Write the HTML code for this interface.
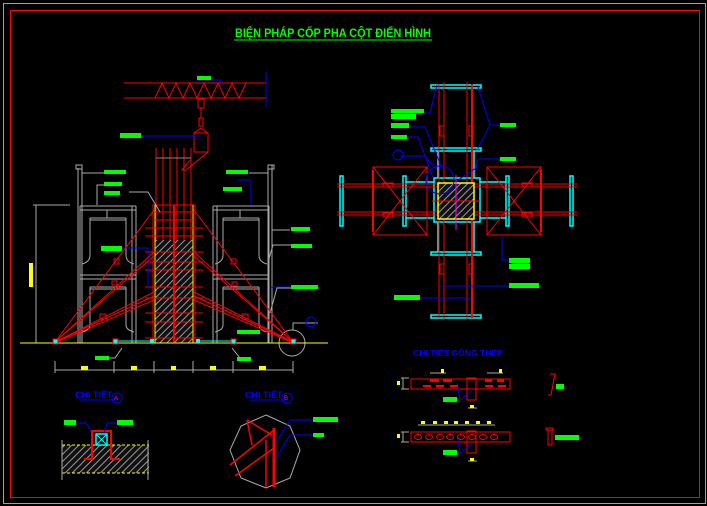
<!DOCTYPE html>
<html><head><meta charset="utf-8"><style>
html,body{margin:0;padding:0;background:#000;}
svg{display:block;}
text{font-family:"Liberation Sans",sans-serif;}
</style></head><body>
<svg width="707" height="506" viewBox="0 0 707 506" xmlns="http://www.w3.org/2000/svg">
<defs>
<pattern id="h" width="5" height="5" patternUnits="userSpaceOnUse" patternTransform="rotate(45)">
<rect width="5" height="5" fill="#111"/><line x1="0" y1="0" x2="0" y2="5" stroke="#999" stroke-width="2"/>
</pattern>
</defs>
<rect width="707" height="506" fill="#000"/>
<rect x="3.5" y="3.5" width="702" height="500" fill="none" stroke="#a0a0a0"/>
<rect x="10.5" y="10.5" width="689" height="487" fill="none" stroke="#f00"/>

<!-- title -->
<text x="333" y="37" fill="#0f0" font-size="12" font-weight="bold" text-anchor="middle" textLength="196" lengthAdjust="spacingAndGlyphs">BIỆN PHÁP CỐP PHA CỘT ĐIỂN HÌNH</text>
<line x1="234" y1="40" x2="432" y2="40" stroke="#0f0"/>

<!-- LEFT ELEVATION -->
<g fill="none">
<!-- truss -->
<line x1="124" y1="83" x2="266" y2="83" stroke="#f00"/>
<line x1="124" y1="98" x2="266" y2="98" stroke="#f00"/>
<polyline points="155,98 162,83 169,98 176,83 183,98 190,83 197,98 204,83 211,98 218,83 225,98 232,83 239,98 246,83" stroke="#f00"/>
<line x1="266" y1="72" x2="266" y2="108" stroke="#00f"/>
<polyline points="196,80 220,80 223,86" stroke="#00f"/>
<!-- hook -->
<rect x="198" y="99" width="6" height="9" stroke="#f00"/>
<line x1="201" y1="108" x2="201" y2="118" stroke="#f00"/>
<rect x="199" y="118" width="4" height="8" stroke="#f00"/>
<rect x="194" y="133" width="14" height="19" stroke="#f00"/>
<polyline points="194,133 201,128 208,133" stroke="#f00"/>
<polyline points="208,152 186,170 182,170 190,160" stroke="#f00"/>
<line x1="141" y1="136" x2="201" y2="136" stroke="#00f"/>
<!-- rebars -->
<g stroke="#f00">
<line x1="156" y1="148" x2="156" y2="343"/><line x1="163" y1="148" x2="163" y2="343"/>
<line x1="170" y1="148" x2="170" y2="343"/><line x1="177" y1="148" x2="177" y2="343"/>
<line x1="184" y1="148" x2="184" y2="343"/><line x1="191" y1="148" x2="191" y2="343"/>
</g>
<line x1="156" y1="158" x2="191" y2="158" stroke="#888"/>
<!-- column -->
<rect x="155" y="240" width="38" height="103" fill="url(#h)" stroke="none"/>
<rect x="153" y="205" width="42" height="138" stroke="#f00"/>
<line x1="155" y1="205" x2="155" y2="343" stroke="#ff0"/>
<line x1="193" y1="205" x2="193" y2="343" stroke="#ff0"/>
<line x1="174" y1="205" x2="174" y2="343" stroke="#f00" stroke-width="2"/>
<g stroke="#f00">
<line x1="145" y1="228" x2="203" y2="228"/><line x1="145" y1="236" x2="203" y2="236"/>
<line x1="145" y1="252" x2="203" y2="252"/><line x1="145" y1="262" x2="203" y2="262"/>
<line x1="145" y1="270" x2="203" y2="270"/><line x1="145" y1="287" x2="203" y2="287"/>
<line x1="145" y1="298" x2="203" y2="298"/><line x1="145" y1="313" x2="203" y2="313"/>
<line x1="145" y1="322" x2="203" y2="322"/><line x1="145" y1="338" x2="203" y2="338"/>
<line x1="155" y1="212" x2="193" y2="212"/><line x1="155" y1="220" x2="193" y2="220"/>
</g>
<!-- scaffolds -->
<g stroke="#aaa">
<polyline points="78,168 78,343"/><polyline points="82,165 82,343"/><rect x="76" y="165" width="6" height="4"/>
<line x1="80" y1="206" x2="80" y2="343"/><line x1="136" y1="206" x2="136" y2="343"/>
<line x1="132" y1="206" x2="132" y2="343"/>
<line x1="80" y1="206" x2="136" y2="206"/><line x1="80" y1="210" x2="136" y2="210"/>
<line x1="90" y1="218" x2="126" y2="218"/><line x1="90" y1="220" x2="126" y2="220"/>
<path d="M90 218 V255 Q90 262 82 264"/><path d="M126 218 V255 Q126 262 134 264"/>
<line x1="80" y1="275" x2="136" y2="275"/><line x1="80" y1="279" x2="136" y2="279"/>
<line x1="90" y1="287" x2="126" y2="287"/><line x1="90" y1="289" x2="126" y2="289"/>
<path d="M90 287 V325 Q90 330 82 332"/><path d="M126 287 V325 Q126 330 134 332"/>
<line x1="107" y1="210" x2="107" y2="218"/>
<line x1="268" y1="168" x2="268" y2="343"/><line x1="272" y1="165" x2="272" y2="343"/><rect x="268" y="165" width="6" height="4"/>
<line x1="213" y1="206" x2="213" y2="343"/><line x1="269" y1="206" x2="269" y2="343"/>
<line x1="217" y1="206" x2="217" y2="343"/>
<line x1="213" y1="206" x2="269" y2="206"/><line x1="213" y1="210" x2="269" y2="210"/>
<line x1="223" y1="218" x2="259" y2="218"/><line x1="223" y1="220" x2="259" y2="220"/>
<path d="M223 218 V255 Q223 262 215 264"/><path d="M259 218 V255 Q259 262 267 264"/>
<line x1="213" y1="275" x2="269" y2="275"/><line x1="213" y1="279" x2="269" y2="279"/>
<line x1="223" y1="287" x2="259" y2="287"/><line x1="223" y1="289" x2="259" y2="289"/>
<path d="M223 287 V325 Q223 330 215 332"/><path d="M259 287 V325 Q259 330 267 332"/>
<line x1="240" y1="210" x2="240" y2="218"/>
<!-- leaders -->
<polyline points="82,173 104,173"/><polyline points="97,205 97,185 104,185"/>
<polyline points="129,192 148,192 160,212"/>
<polyline points="249,173 268,173"/><polyline points="272,230 290,230"/><polyline points="268,262 273,245 291,245"/>
<polyline points="270,313 277,288 291,288"/>
<circle cx="292" cy="343" r="13"/>
<polyline points="293,330 293,323 318,323"/>
<polyline points="122,348 115,358 107,358"/><polyline points="232,348 240,358 248,358"/>
<line x1="36" y1="205" x2="36" y2="343"/><line x1="33" y1="205" x2="70" y2="205"/>
</g>
<line x1="111" y1="188" x2="111" y2="188" stroke="#aaa"/>
<polyline points="122,248 148,248 148,290" stroke="#00f"/>
<polyline points="250,331 258,331 258,337" stroke="#00f"/>
<polyline points="98,358 109,358" stroke="#00f"/>
<polyline points="238,180 251,180 251,205" stroke="#00f"/>
<polyline points="270,288 275,287 290,287" stroke="#00f"/>
<circle cx="311" cy="322" r="5" stroke="#00f"/>
<!-- braces -->
<g stroke="#f00">
<line x1="55" y1="342" x2="154" y2="210"/><line x1="55" y1="342" x2="154" y2="252"/>
<line x1="55" y1="342" x2="154" y2="256"/><line x1="55" y1="342" x2="154" y2="292"/>
<line x1="55" y1="342" x2="154" y2="296"/><line x1="57" y1="342" x2="154" y2="300"/>
<line x1="293" y1="342" x2="194" y2="210"/><line x1="293" y1="342" x2="194" y2="252"/>
<line x1="293" y1="342" x2="194" y2="256"/><line x1="293" y1="342" x2="194" y2="292"/>
<line x1="293" y1="342" x2="194" y2="296"/><line x1="291" y1="342" x2="194" y2="300"/>
<rect x="114" y="259" width="5" height="5"/><rect x="100" y="314" width="6" height="5"/><rect x="112" y="281" width="5" height="4"/>
<rect x="231" y="259" width="5" height="5"/><rect x="242" y="314" width="6" height="5"/><rect x="232" y="282" width="5" height="4"/>
</g>
<!-- ground -->
<line x1="20" y1="343" x2="328" y2="343" stroke="#ff0"/>
<g stroke="#0ff"><line x1="118" y1="341" x2="152" y2="341"/><line x1="196" y1="341" x2="233" y2="341"/></g>
<g fill="#0ff" stroke="#f00">
<rect x="53" y="339" width="5" height="5"/><rect x="113" y="339" width="5" height="5"/><rect x="231" y="339" width="5" height="5"/><rect x="291" y="339" width="5" height="5"/>
</g>
<rect x="150" y="339" width="4" height="4" fill="#0ff"/><rect x="196" y="339" width="4" height="4" fill="#0ff"/>
<!-- dimension -->
<line x1="55" y1="370" x2="293" y2="370" stroke="#aaa"/>
<g stroke="#aaa"><line x1="55" y1="361" x2="55" y2="373"/><line x1="114" y1="361" x2="114" y2="373"/><line x1="154" y1="361" x2="154" y2="373"/><line x1="193" y1="361" x2="193" y2="373"/><line x1="233" y1="361" x2="233" y2="373"/><line x1="293" y1="361" x2="293" y2="373"/></g>
</g>
<g fill="#ff0">
<rect x="81" y="366" width="7" height="4"/><rect x="131" y="366" width="6" height="4"/><rect x="171" y="366" width="5" height="4"/><rect x="210" y="366" width="6" height="4"/><rect x="259" y="366" width="7" height="4"/>
<rect x="29" y="263" width="4" height="24"/>
</g>
<g fill="#0f0">
<rect x="197" y="76" width="14" height="4"/><rect x="120" y="133" width="21" height="5"/>
<rect x="104" y="170" width="22" height="4"/><rect x="104" y="182" width="18" height="4"/><rect x="104" y="191" width="16" height="4"/>
<rect x="101" y="246" width="21" height="5"/>
<rect x="226" y="170" width="22" height="4"/><rect x="223" y="187" width="19" height="4"/>
<rect x="291" y="227" width="19" height="4"/><rect x="291" y="244" width="21" height="4"/><rect x="291" y="285" width="27" height="4"/>
<rect x="237" y="330" width="23" height="4"/><rect x="95" y="356" width="14" height="4"/><rect x="237" y="357" width="14" height="4"/>
</g>

<!-- PLAN VIEW -->
<g fill="none">
<g stroke="#0ff" stroke-width="1.5">
<rect x="431" y="85" width="50" height="3"/><rect x="431" y="148" width="50" height="3"/>
<rect x="431" y="252" width="50" height="3"/><rect x="431" y="315" width="50" height="3"/>
<rect x="340" y="176" width="3" height="50"/><rect x="403" y="176" width="3" height="50"/>
<rect x="506" y="176" width="3" height="50"/><rect x="570" y="176" width="3" height="50"/>
<rect x="434" y="178" width="46" height="44"/>
<line x1="438" y1="151" x2="438" y2="178"/><line x1="474" y1="151" x2="474" y2="178"/>
<line x1="438" y1="222" x2="438" y2="252"/><line x1="474" y1="222" x2="474" y2="252"/>
<line x1="406" y1="182" x2="434" y2="182"/><line x1="406" y1="218" x2="434" y2="218"/>
<line x1="480" y1="182" x2="506" y2="182"/><line x1="480" y1="218" x2="506" y2="218"/>
</g>
<g stroke="#f00">
<line x1="439" y1="84" x2="439" y2="318"/><line x1="444" y1="82" x2="444" y2="320"/>
<line x1="467" y1="82" x2="467" y2="320"/><line x1="472" y1="84" x2="472" y2="318" stroke-width="2"/>
<line x1="337" y1="184" x2="577" y2="184"/><line x1="337" y1="187" x2="577" y2="187"/>
<line x1="337" y1="212" x2="577" y2="212"/><line x1="337" y1="215" x2="577" y2="215"/>
<rect x="373" y="167" width="54" height="68"/><rect x="487" y="167" width="54" height="68"/>
<line x1="373" y1="167" x2="427" y2="235"/><line x1="427" y1="167" x2="373" y2="235"/>
<line x1="487" y1="167" x2="541" y2="235"/><line x1="541" y1="167" x2="487" y2="235"/>
<line x1="373" y1="170" x2="373" y2="232" stroke-width="2"/><line x1="541" y1="170" x2="541" y2="232" stroke-width="2"/>
<rect x="440" y="126" width="4" height="10"/><rect x="469" y="126" width="4" height="10"/>
<rect x="440" y="264" width="4" height="10"/><rect x="469" y="264" width="4" height="10"/>
<rect x="383" y="183" width="10" height="4"/><rect x="383" y="213" width="10" height="4"/>
<rect x="522" y="183" width="10" height="4"/><rect x="522" y="213" width="10" height="4"/>
</g>
<rect x="438" y="183" width="36" height="36" fill="url(#h)" stroke="#ff0" stroke-width="1.5"/>
<line x1="456" y1="175" x2="456" y2="230" stroke="#f0f"/>
<line x1="432" y1="201" x2="480" y2="201" stroke="#f00"/>
<g stroke="#00f">
<polyline points="392,113 430,113 437,85"/><polyline points="411,127 425,127 442,168"/>
<polyline points="408,137 418,137 433,178"/><polyline points="400,156 425,156 437,170"/>
<polyline points="478,87 490,125 500,125"/><polyline points="500,125 490,125 478,148"/>
<polyline points="500,159 478,159 476,168 458,180"/>
<circle cx="440" cy="180" r="14"/>
<polyline points="502,235 502,260 509,260"/>
<polyline points="442,286 509,286"/><polyline points="419,298 471,298"/>
</g>
<circle cx="398" cy="155" r="5" stroke="#00f"/>
</g>
<g fill="#0f0">
<rect x="391" y="109" width="33" height="4"/><rect x="391" y="114" width="25" height="5"/>
<rect x="391" y="123" width="18" height="5"/><rect x="391" y="135" width="16" height="4"/>
<rect x="500" y="123" width="16" height="4"/><rect x="500" y="157" width="16" height="4"/>
<rect x="509" y="258" width="21" height="5"/><rect x="509" y="264" width="21" height="5"/>
<rect x="509" y="283" width="30" height="5"/><rect x="394" y="295" width="26" height="5"/>
</g>

<!-- CHI TIET A -->
<text x="75" y="398" fill="#00f" font-size="9" font-weight="bold">CHI TIẾT</text>
<circle cx="117" cy="398" r="5" fill="none" stroke="#00f"/><text x="114" y="400" fill="#f0f" font-size="6">A</text>
<line x1="79" y1="400" x2="115" y2="400" stroke="#00f"/>
<rect x="62" y="445" width="87" height="28" fill="url(#h)"/>
<line x1="62" y1="445" x2="149" y2="445" stroke="#ff0" stroke-dasharray="3,2"/>
<line x1="62" y1="473" x2="149" y2="473" stroke="#ff0" stroke-dasharray="3,2"/>
<line x1="62" y1="440" x2="62" y2="480" stroke="#aaa"/><line x1="148" y1="440" x2="148" y2="480" stroke="#aaa"/>
<polyline points="84,459 92,459 92,431 111,431 111,459 120,459" fill="none" stroke="#f00" stroke-width="2"/>
<rect x="96" y="434" width="11" height="11" fill="none" stroke="#0ff" stroke-width="1.5"/>
<line x1="96" y1="434" x2="107" y2="445" stroke="#0ff"/><line x1="107" y1="434" x2="96" y2="445" stroke="#0ff"/>
<polyline points="78,423 86,423 91,431" fill="none" stroke="#00f"/><polyline points="117,423 107,423 104,433" fill="none" stroke="#00f"/>
<rect x="64" y="420" width="12" height="5" fill="#0f0"/><rect x="117" y="420" width="16" height="5" fill="#0f0"/>

<!-- CHI TIET B -->
<text x="245" y="398" fill="#00f" font-size="9" font-weight="bold">CHI TIẾT</text>
<circle cx="287" cy="398" r="5" fill="none" stroke="#00f"/><text x="284" y="400" fill="#f0f" font-size="6">B</text>
<line x1="249" y1="400" x2="285" y2="400" stroke="#00f"/>
<polygon points="266,415 290,426 300,450 290,478 266,488 241,478 230,450 241,426" fill="none" stroke="#aaa"/>
<g stroke="#f00" fill="none" stroke-width="1.5">
<line x1="274" y1="428" x2="274" y2="487" stroke-width="3"/><line x1="266" y1="440" x2="266" y2="487"/>
<line x1="230" y1="465" x2="274" y2="430"/><line x1="235" y1="476" x2="274" y2="448"/>
<polyline points="247,420 252,445"/><line x1="247" y1="420" x2="272" y2="435"/>
</g>
<polyline points="276,442 290,420 313,420" fill="none" stroke="#00f"/><polyline points="276,458 290,435 313,435" fill="none" stroke="#00f"/>
<rect x="313" y="417" width="25" height="5" fill="#0f0"/><rect x="313" y="433" width="11" height="4" fill="#0f0"/>

<!-- CHI TIET GONG THEP -->
<text x="413" y="356" fill="#00f" font-size="8" font-weight="bold" textLength="90" lengthAdjust="spacingAndGlyphs">CHI TIẾT GÔNG THÉP</text>
<g fill="none">
<rect x="411" y="379" width="99" height="10" stroke="#f00"/>
<rect x="467" y="378" width="9" height="22" stroke="#f00"/>
<rect x="411" y="432" width="99" height="10" stroke="#f00"/>
<rect x="467" y="431" width="9" height="22" stroke="#f00"/>
<g stroke="#aaa"><line x1="401" y1="378" x2="409" y2="378"/><line x1="401" y1="389" x2="409" y2="389"/><line x1="403" y1="378" x2="403" y2="389"/>
<line x1="401" y1="432" x2="409" y2="432"/><line x1="401" y1="442" x2="409" y2="442"/><line x1="403" y1="432" x2="403" y2="442"/>
<line x1="430" y1="373" x2="446" y2="373"/><line x1="487" y1="373" x2="503" y2="373"/>
<line x1="418" y1="425" x2="495" y2="425"/><line x1="468" y1="408" x2="477" y2="408"/><line x1="468" y1="461" x2="477" y2="461"/></g>
<polyline points="457,383 460,400 472,391" stroke="#00f"/>
<polyline points="457,436 460,453 472,444" stroke="#00f"/>
<polyline points="550,374 555,374 551,395 548,395" stroke="#f00"/>
<rect x="546" y="428" width="7" height="2" stroke="#f00"/><rect x="548" y="430" width="4" height="15" stroke="#f00"/>
</g>
<g fill="#f00">
<rect x="430" y="379" width="9" height="3"/><rect x="443" y="379" width="9" height="3"/><rect x="485" y="379" width="7" height="3"/><rect x="497" y="379" width="7" height="3"/>
<rect x="423" y="385" width="8" height="2"/><rect x="436" y="385" width="8" height="2"/><rect x="450" y="385" width="8" height="2"/><rect x="485" y="385" width="8" height="2"/><rect x="498" y="385" width="8" height="2"/>
</g>
<g fill="none" stroke="#f00"><ellipse cx="418" cy="437" rx="3.5" ry="2.5"/><ellipse cx="429" cy="437" rx="3.5" ry="2.5"/><ellipse cx="440" cy="437" rx="3.5" ry="2.5"/><ellipse cx="450" cy="437" rx="3.5" ry="2.5"/><ellipse cx="461" cy="437" rx="3.5" ry="2.5"/><ellipse cx="472" cy="437" rx="3.5" ry="2.5"/><ellipse cx="483" cy="437" rx="3.5" ry="2.5"/><ellipse cx="494" cy="437" rx="3.5" ry="2.5"/></g>
<g fill="#ff0">
<rect x="397" y="381" width="3" height="4"/><rect x="397" y="434" width="3" height="4"/>
<rect x="441" y="369" width="3" height="4"/><rect x="499" y="369" width="3" height="4"/>
<rect x="470" y="405" width="4" height="3"/><rect x="470" y="458" width="4" height="3"/>
<rect x="421" y="421" width="4" height="3"/><rect x="433" y="421" width="4" height="3"/><rect x="444" y="421" width="4" height="3"/><rect x="454" y="421" width="4" height="3"/><rect x="465" y="421" width="4" height="3"/><rect x="476" y="421" width="4" height="3"/><rect x="487" y="421" width="4" height="3"/>
</g>
<g fill="#0f0">
<rect x="443" y="397" width="14" height="5"/><rect x="443" y="450" width="14" height="5"/>
<rect x="556" y="384" width="8" height="5"/><rect x="555" y="435" width="24" height="5"/>
</g>
</svg>
</body></html>
